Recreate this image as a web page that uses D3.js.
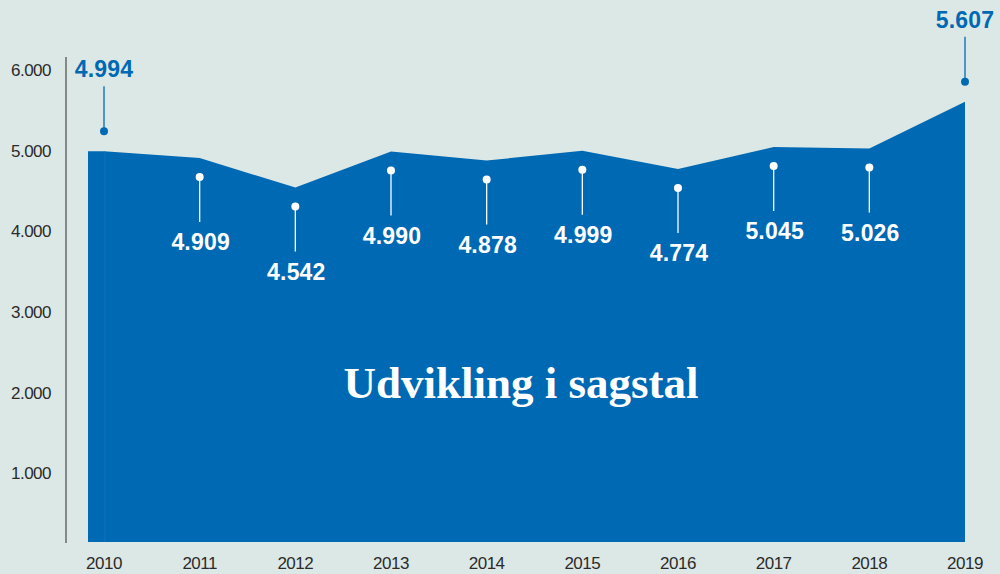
<!DOCTYPE html>
<html>
<head>
<meta charset="utf-8">
<script src="https://d3js.org/d3.v7.min.js"></script>
<style>
  body { margin: 0; background: #dce8e5; }
  svg { display: block; }
  .tick-label { font-family: "Liberation Sans", Arial, sans-serif; font-size: 17px; fill: #2b2b2b; letter-spacing: -0.5px; }
  .val-label { font-family: "Liberation Sans", Arial, sans-serif; font-size: 23px; font-weight: bold; letter-spacing: 0.2px; }
  .title { font-family: "Liberation Serif", "DejaVu Serif", serif; font-size: 45px; font-weight: bold; fill: #ffffff; }
</style>
</head>
<body>
<svg id="chart" width="1000" height="574"></svg>
<script>
// data
const years = [2010, 2011, 2012, 2013, 2014, 2015, 2016, 2017, 2018, 2019];
const cases = [4994, 4909, 4542, 4990, 4878, 4999, 4774, 5045, 5026, 5607];
const labelText = ["4.994", "4.909", "4.542", "4.990", "4.878", "4.999", "4.774", "5.045", "5.026", "5.607"];
const labelAbove = [true, false, false, false, false, false, false, false, false, true];
const yTicks = [1000, 2000, 3000, 4000, 5000, 6000];
const yTickText = ["1.000", "2.000", "3.000", "4.000", "5.000", "6.000"];
const title = "Udvikling i sagstal";

const blue = "#0069b4";
const svg = d3.select("#chart");

const x = d3.scalePoint().domain(years).range([104, 965]);
const y = d3.scaleLinear().domain([0, 6000]).range([554, 70]);
const baseline = 542;

// axis line
svg.append("line")
  .attr("x1", 66).attr("x2", 66)
  .attr("y1", 57).attr("y2", 543)
  .attr("stroke", "#4a4a4a").attr("stroke-width", 1.2);

// y tick labels
svg.selectAll("text.ytick")
  .data(yTicks)
  .join("text")
  .attr("class", "tick-label ytick")
  .attr("x", 51)
  .attr("y", d => y(d))
  .attr("dy", "0.35em")
  .attr("text-anchor", "end")
  .text((d, i) => yTickText[i]);

// area
const pts = years.map((yr, i) => ({ x: x(yr), v: cases[i] }));
pts.unshift({ x: x(years[0]) - 16, v: cases[0] });

const area = d3.area()
  .x(d => d.x)
  .y0(baseline)
  .y1(d => y(d.v));

svg.append("path")
  .datum(pts)
  .attr("d", area)
  .attr("fill", blue);

// faint seam
svg.append("line")
  .attr("x1", x(years[0]) + 1).attr("x2", x(years[0]) + 1)
  .attr("y1", y(cases[0])).attr("y2", baseline)
  .attr("stroke", "#1a74b9").attr("stroke-width", 0.8);

// x tick labels
svg.selectAll("text.xtick")
  .data(years)
  .join("text")
  .attr("class", "tick-label xtick")
  .attr("x", d => x(d))
  .attr("y", 563)
  .attr("dy", "0.35em")
  .attr("text-anchor", "middle")
  .text(d => d);

// callouts
const callouts = svg.append("g");
years.forEach((yr, i) => {
  const cx = x(yr);
  const top = y(cases[i]);
  const up = labelAbove[i];
  const color = up ? blue : "#ffffff";
  const dotY = up ? top - 20 : top + 19;
  const endY = up ? dotY - 45 : dotY + 45;
  const textY = up ? endY - 17 : endY + 20;
  callouts.append("line")
    .attr("x1", cx).attr("x2", cx)
    .attr("y1", dotY).attr("y2", endY)
    .attr("stroke", color).attr("stroke-width", 1.3);
  callouts.append("circle")
    .attr("cx", cx).attr("cy", dotY).attr("r", 4)
    .attr("fill", color);
  callouts.append("text")
    .attr("class", "val-label")
    .attr("x", up ? cx : cx + 1)
    .attr("y", textY)
    .attr("dy", "0.35em")
    .attr("text-anchor", "middle")
    .attr("fill", color)
    .text(labelText[i]);
});

// title
svg.append("text")
  .attr("class", "title")
  .attr("x", 521)
  .attr("y", 382)
  .attr("dy", "0.35em")
  .attr("text-anchor", "middle")
  .text(title);
</script>
</body>
</html>
